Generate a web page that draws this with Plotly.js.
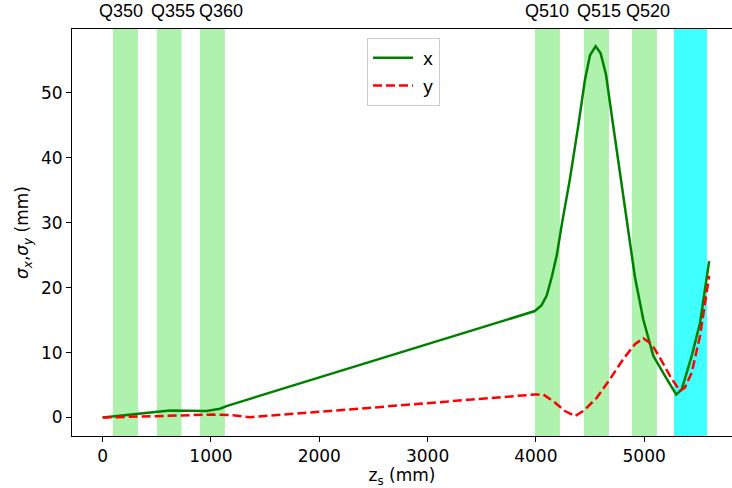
<!DOCTYPE html>
<html>
<head>
<meta charset="utf-8">
<script src="https://cdn.plot.ly/plotly-3.0.1.min.js"></script>
<style>html,body{margin:0;padding:0;overflow:hidden;background:#fff;}</style>
</head>
<body>
<div id="chart" style="width:732px;height:488px;"></div>
<script>
// beam size along beamline
const zX = [0, 326, 620, 960, 1083, 1150, 3991, 4053, 4100, 4146, 4192, 4238, 4315, 4392, 4453, 4500, 4552, 4598, 4648, 4700, 4761, 4838, 4915, 4992, 5084, 5192, 5296, 5346, 5439, 5516, 5577, 5600];
const sigmaX = [0, 0.6, 1.08, 1.0, 1.35, 1.8, 16.4, 17.3, 18.8, 21.6, 24.9, 29.6, 36.8, 45.0, 52.0, 55.8, 57.2, 56.1, 52.8, 46.6, 39.4, 30.6, 21.6, 15.1, 9.5, 6.4, 3.55, 4.3, 9.5, 14.6, 21.3, 24.1];
const zY = [0, 700, 1020, 1200, 1360, 2376, 3697, 3991, 4068, 4161, 4269, 4361, 4438, 4561, 4684, 4807, 4915, 4992, 5069, 5146, 5238, 5330, 5376, 5439, 5516, 5593, 5600];
const sigmaY = [0, 0.3, 0.45, 0.35, 0.05, 1.37, 3.2, 3.55, 3.55, 2.5, 1.0, 0.2, 1.0, 3.0, 5.9, 9.0, 11.3, 12.2, 11.3, 9.2, 6.4, 4.1, 4.6, 6.9, 12.6, 21.3, 21.8];

// quadrupole / element extents (mm)
const quadLabels = ["Q350", "Q355", "Q360", "Q510", "Q515", "Q520"];
const quadLabelZ = [166, 649, 1097, 4104, 4580, 5033];
const quadStart = [95, 501, 898, 3992, 4444, 4887];
const quadEnd = [326, 729, 1129, 4222, 4675, 5118];
const cyanStart = [5275];
const cyanEnd = [5580];

const xTicks = [0, 1000, 2000, 3000, 4000, 5000];
const yTicks = [0, 10, 20, 30, 40, 50];

const shapes = [];
const annotations = [];
for (let i = 0; i < quadStart.length; i++) {
  shapes.push({type: 'rect', xref: 'x', yref: 'paper', x0: quadStart[i], x1: quadEnd[i], y0: 0, y1: 1,
    fillcolor: '#aef2ae', line: {width: 0}, layer: 'below'});
  annotations.push({xref: 'x', yref: 'paper', x: quadLabelZ[i], y: 1, yshift: 6,
    yanchor: 'bottom', xanchor: 'center', showarrow: false, text: quadLabels[i],
    font: {family: 'Liberation Sans, Arial, sans-serif', size: 18, color: '#000'}});
}
for (let i = 0; i < cyanStart.length; i++) {
  shapes.push({type: 'rect', xref: 'x', yref: 'paper', x0: cyanStart[i], x1: cyanEnd[i], y0: 0, y1: 1,
    fillcolor: '#40ffff', line: {width: 0}, layer: 'below'});
}

const traces = [
  {x: zX, y: sigmaX, name: '\u00a0x', mode: 'lines', line: {color: 'green', width: 2.5}},
  {x: zY, y: sigmaY, name: '\u00a0y', mode: 'lines', line: {color: 'red', width: 2.5, dash: '9px,4px'}}
];

const tickFont = {family: 'DejaVu Sans, sans-serif', size: 17, color: '#000'};
const layout = {
  width: 732, height: 488,
  margin: {l: 72, r: 0, t: 29, b: 52},
  paper_bgcolor: '#fff', plot_bgcolor: '#fff',
  showlegend: true,
  legend: {x: 0.447, y: 0.978, xanchor: 'left', yanchor: 'top', bgcolor: 'rgba(255,255,255,0.8)',
    bordercolor: '#cccccc', borderwidth: 1, itemwidth: 40,
    font: {family: 'Liberation Sans, Arial, sans-serif', size: 19, color: '#000'}},
  xaxis: {range: [-283, 5811], tickvals: xTicks, ticktext: xTicks.map(String), showgrid: false, zeroline: false,
    showline: true, mirror: true, linecolor: '#000', linewidth: 1, ticks: 'outside', ticklen: 5, tickcolor: '#000',
    tickfont: tickFont,
    title: {text: 'z<sub>s</sub> (mm)', font: {family: 'DejaVu Sans, sans-serif', size: 17, color: '#000'}, standoff: 4}},
  yaxis: {range: [-2.85, 59.85], tickvals: yTicks, ticktext: yTicks.map(String), showgrid: false, zeroline: false,
    showline: true, mirror: false, linecolor: '#000', linewidth: 1, ticks: 'outside', ticklen: 5, tickcolor: '#000',
    tickfont: tickFont,
    title: {text: '<i>σ</i><sub><i>x</i></sub>,<i>σ</i><sub><i>y</i></sub> (mm)', font: {family: 'DejaVu Sans, sans-serif', size: 17, color: '#000'}}},
  shapes: shapes,
  annotations: annotations
};

Plotly.newPlot('chart', traces, layout, {displayModeBar: false, staticPlot: true});
</script>
</body>
</html>
